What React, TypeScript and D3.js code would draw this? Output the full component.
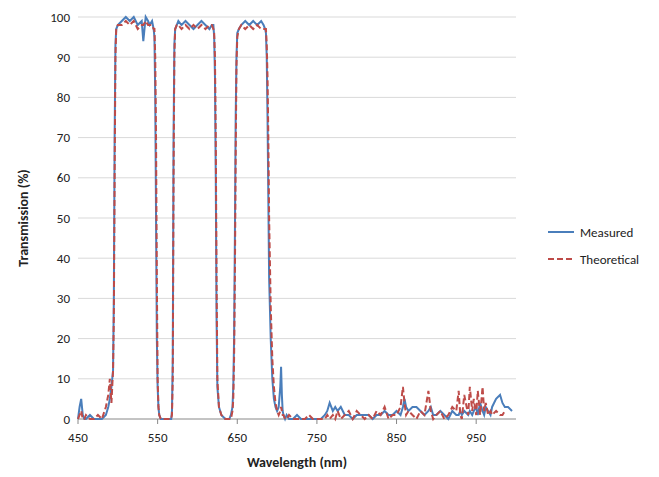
import * as d3 from "d3";

const wavelengths = [450,452,454,456,458,460,465,470,475,480,485,488,490,492,494,495,496,497,498,500,505,510,515,520,525,530,532,535,538,540,543,545,546,547,548,549,550,551,552,554,556,560,565,567,568,569,570,571,572,574,576,580,585,590,595,600,605,610,615,618,620,621,622,623,624,625,627,630,635,640,642,644,645,646,647,648,649,650,652,655,660,665,670,675,680,683,685,686,687,688,689,690,692,694,696,698,700,702,704,705,706,707,708,710,712,715,720,725,730,735,740,745,750,755,760,763,766,770,773,776,780,785,790,795,800,805,810,815,820,825,830,835,840,845,850,855,858,860,862,865,870,875,880,885,890,893,896,900,905,910,915,920,925,928,930,932,935,940,942,945,947,950,952,955,958,960,962,965,968,970,975,980,983,986,990,995,1000];

const measured = [0,3,5,1,0,0,1,0,0,0,1,3,5,8,12,30,70,93,97,98,99,100,99,100,98,99,94,100,99,98,99,97,95,80,50,20,8,3,1,0,0,0,0,0,2,15,70,93,97,98,99,98,99,98,97,98,99,98,97,98,98,95,85,60,25,8,3,1,0,0,1,3,8,20,45,75,90,96,97,98,99,98,99,98,99,98,97,96,90,75,55,35,20,10,5,3,2,3,8,13,6,2,1,0,1,0,0,1,0,0,0,0,0,0,1,2,4,2,3,2,3,1,1,0,1,1,1,1,0,1,1,2,1,1,2,1,3,5,3,2,3,3,2,1,2,3,1,1,2,1,0,2,1,1,2,1,2,1,2,1,2,3,1,4,2,1,3,2,1,3,5,6,4,3,3,2];

const theoretical = [0,1,2,0,0,1,0,0,1,0,3,6,10,4,12,25,60,90,97,98,98,99,98,99,97,98,98,99,98,98,98,97,97,90,70,35,10,3,1,0,0,0,0,0,1,10,60,90,97,98,98,97,98,97,98,97,98,97,98,98,97,96,90,70,35,10,3,1,0,0,0,2,5,15,35,65,88,95,97,98,97,98,97,98,97,97,97,97,93,85,70,50,28,15,8,4,2,1,2,3,2,1,1,0,0,1,0,0,0,0,1,0,0,0,0,1,0,1,0,2,0,1,2,0,2,1,0,1,0,2,1,3,0,1,1,3,8,4,1,2,1,0,2,1,7,2,0,1,2,0,1,3,2,7,1,0,6,1,8,2,5,1,7,1,8,2,4,1,2,1,2,1,1,2];

const yTicks = [0,10,20,30,40,50,60,70,80,90,100];
const xTicks = [450,550,650,750,850,950];

const blue = "#4a7ebb";
const red = "#be4b48";

export default function App() {
  const left = 70, right = 508, top = 9, bottom = 411;
  const x = d3.scaleLinear().domain([450, 1000]).range([left, right]);
  const y = d3.scaleLinear().domain([0, 100]).range([bottom, top]);
  const mk = (vals: number[]) =>
    d3.line<number>().x((_, i) => x(wavelengths[i])).y((v) => y(v))(vals) ?? "";
  const font = "Calibri, Carlito, 'Liberation Sans', Arial, sans-serif";
  return (
    <svg width={651} height={469} style={{ display: "block", fontFamily: font }}>
      <rect width={651} height={469} fill="#fff" />
      {yTicks.map((t) => (
        <g key={t}>
          <line x1={left} x2={right} y1={y(t)} y2={y(t)} stroke={t === 0 ? "#888" : "#d9d9d9"} strokeWidth={1} />
          <text x={left - 8} y={y(t)} dy="0.35em" textAnchor="end" fontSize={13} fill="#222">{t}</text>
        </g>
      ))}
      {xTicks.map((t) => (
        <g key={t}>
          <line x1={x(t)} x2={x(t)} y1={bottom} y2={bottom + 5} stroke="#888" />
          <text x={x(t)} y={bottom + 23} textAnchor="middle" fontSize={13} fill="#222">{t}</text>
        </g>
      ))}
      <path d={mk(measured)} fill="none" stroke={blue} strokeWidth={2} />
      <path d={mk(theoretical)} fill="none" stroke={red} strokeWidth={2} strokeDasharray="6,3" />
      <text x={(left + right) / 2} y={bottom + 48} textAnchor="middle" fontSize={14} fontWeight="bold" fill="#222">Wavelength (nm)</text>
      <text transform={`translate(20,${(top + bottom) / 2}) rotate(-90)`} textAnchor="middle" fontSize={14} fontWeight="bold" fill="#222">Transmission (%)</text>
      <line x1={540} x2={566} y1={224} y2={224} stroke={blue} strokeWidth={2} />
      <text x={572} y={224} dy="0.35em" fontSize={13} fill="#222">Measured</text>
      <line x1={540} x2={566} y1={251} y2={251} stroke={red} strokeWidth={2} strokeDasharray="6,3" />
      <text x={572} y={251} dy="0.35em" fontSize={13} fill="#222">Theoretical</text>
    </svg>
  );
}
